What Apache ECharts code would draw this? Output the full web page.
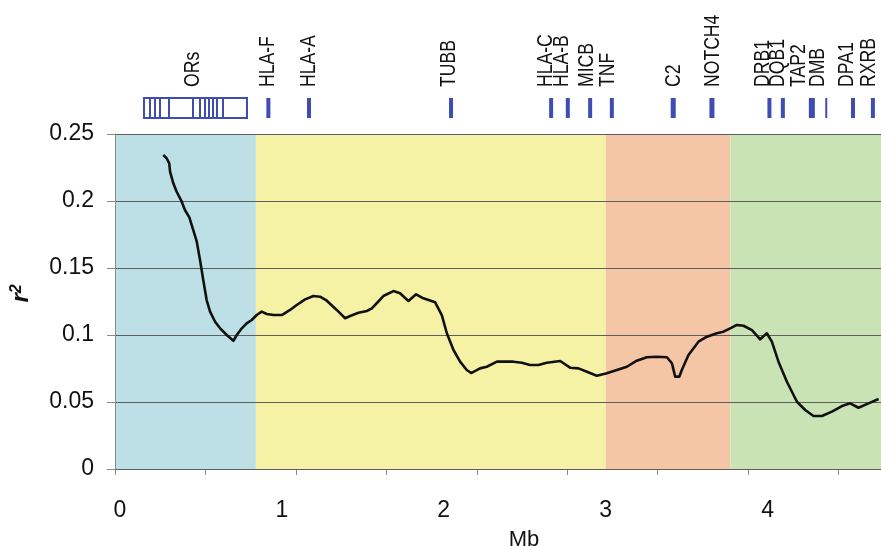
<!DOCTYPE html>
<html>
<head>
<meta charset="utf-8">
<script src="https://cdn.jsdelivr.net/npm/echarts@6/dist/echarts.min.js"></script>
<style>
  html, body { margin: 0; padding: 0; background: #ffffff; }
  #chart { width: 881px; height: 546px; }
</style>
</head>
<body>
<div id="chart"></div>
<script>
// Sliding-window LD (r²) along the MHC region, position in Mb
const positionMb = [
  0.268, 0.289, 0.305, 0.310, 0.330, 0.351, 0.382, 0.402, 0.429, 0.450,
  0.475, 0.495, 0.515, 0.536, 0.557, 0.588, 0.619, 0.660, 0.701, 0.722,
  0.753, 0.783, 0.814, 0.845, 0.876, 0.907, 0.948, 1.000, 1.051, 1.092,
  1.144, 1.195, 1.236, 1.278, 1.339, 1.391, 1.422, 1.473, 1.525, 1.556,
  1.586, 1.627, 1.689, 1.730, 1.782, 1.829, 1.874, 1.947, 1.988, 2.019,
  2.060, 2.101, 2.142, 2.169, 2.224, 2.266, 2.328, 2.430, 2.482, 2.533,
  2.585, 2.636, 2.719, 2.780, 2.832, 2.884, 2.945, 3.007, 3.069, 3.131,
  3.192, 3.254, 3.316, 3.378, 3.409, 3.429, 3.455, 3.470, 3.511, 3.573,
  3.625, 3.686, 3.727, 3.769, 3.810, 3.851, 3.903, 3.954, 3.995, 4.026,
  4.067, 4.119, 4.181, 4.232, 4.283, 4.335, 4.397, 4.459, 4.510, 4.561,
  4.623, 4.685
];
const r2Values = [
  0.2343, 0.2319, 0.2281, 0.2219, 0.2132, 0.2069, 0.1995, 0.1933, 0.1878, 0.1796,
  0.1696, 0.1560, 0.1410, 0.1261, 0.1174, 0.1099, 0.1050, 0.1000, 0.0957, 0.1000,
  0.1050, 0.1087, 0.1112, 0.1149, 0.1174, 0.1157, 0.1149, 0.1149, 0.1187, 0.1224,
  0.1266, 0.1291, 0.1286, 0.1256, 0.1187, 0.1125, 0.1142, 0.1166, 0.1179, 0.1199,
  0.1237, 0.1291, 0.1328, 0.1311, 0.1254, 0.1304, 0.1274, 0.1244, 0.1149, 0.1013,
  0.0888, 0.0801, 0.0739, 0.0716, 0.0751, 0.0763, 0.0801, 0.0801, 0.0793, 0.0776,
  0.0776, 0.0793, 0.0806, 0.0756, 0.0751, 0.0726, 0.0696, 0.0714, 0.0739, 0.0763,
  0.0808, 0.0834, 0.0838, 0.0834, 0.0789, 0.0689, 0.0689, 0.0739, 0.0851, 0.0950,
  0.0987, 0.1013, 0.1025, 0.1050, 0.1075, 0.1069, 0.1037, 0.0968, 0.1013, 0.0950,
  0.0801, 0.0651, 0.0502, 0.0440, 0.0396, 0.0396, 0.0428, 0.0470, 0.0490, 0.0457,
  0.0490, 0.0522
];

// Axis labels and tick marks (Mb)
const xLabelValues = [0, 1, 2, 3, 4];
const xTickValues = [-0.03, 0.528, 1.087, 1.645, 2.204, 2.762, 3.320, 3.879, 4.437];

// Coloured LD blocks: edges in Mb
const blockEdges = [-0.03, 0.84, 3.0, 3.77, 4.7];
const blockColors = ['#bde0e6', '#f5f2a5', '#f4c6a6', '#cae3b4'];

// Gene track
const geneNames = ['HLA-F', 'HLA-A', 'TUBB', 'HLA-C', 'HLA-B', 'MICB', 'TNF', 'C2',
  'NOTCH4', 'DRB1', 'DQB1', 'TAP2', 'DMB', 'DPA1', 'RXRB'];
const genePosMb = [0.917, 1.168, 2.045, 2.663, 2.766, 2.904, 3.038, 3.417,
  3.656, 4.011, 4.094, 4.273, 4.362, 4.527, 4.650];
const geneLabelMb = [0.913, 1.168, 2.033, 2.632, 2.729, 2.885, 3.013, 3.419,
  3.664, 3.974, 4.067, 4.191, 4.314, 4.490, 4.623];

// Olfactory receptor cluster
const orsSpanMb = [0.149, 0.785];
const orsGeneMb = [0.186, 0.217, 0.245, 0.304, 0.452, 0.495, 0.523, 0.551, 0.575, 0.600, 0.637];
const orsLabelMb = 0.454;

const X_MIN = -0.03, X_MAX = 4.7;
const TRACK_BLUE = '#3f4db3';
const markWidthPx = { 'C2': 5, 'NOTCH4': 5, 'TAP2': 6, 'DMB': 2 };
const FONT = "'Liberation Sans', Arial, sans-serif";

function geneLabel(api, mb, text) {
  const p = api.coord([mb, 0]);
  return {
    type: 'text',
    x: Math.round(p[0]), y: 87,
    rotation: Math.PI / 2,
    scaleX: 0.8,
    style: {
      text: text, fontSize: 22, fontFamily: FONT, fill: '#111',
      align: 'left', verticalAlign: 'middle'
    }
  };
}

const chart = echarts.init(document.getElementById('chart'), null, { renderer: 'canvas' });

chart.setOption({
  animation: false,
  backgroundColor: '#ffffff',
  grid: [
    { left: 115, right: 0, top: 134, bottom: 77, outerBoundsMode: 'none', containLabel: false },
    { left: 115, right: 0, top: 98, height: 20, outerBoundsMode: 'none', containLabel: false }
  ],
  xAxis: [
    {
      type: 'value', gridIndex: 0, min: X_MIN, max: X_MAX,
      name: 'Mb', nameLocation: 'middle', nameGap: 60,
      nameTextStyle: { fontSize: 22, fontFamily: FONT, color: '#111', padding: [0, 0, 0, 52] },
      axisLine: { show: true, onZero: false, lineStyle: { color: '#8a8a8a', width: 1 } },
      axisTick: { show: true, length: 6, inside: false, customValues: xTickValues,
        lineStyle: { color: '#8a8a8a' } },
      axisLabel: { customValues: xLabelValues, margin: 30, fontSize: 23, fontFamily: FONT,
        color: '#111', formatter: v => String(Math.round(v)) },
      splitLine: { show: false }
    },
    {
      type: 'value', gridIndex: 1, min: X_MIN, max: X_MAX, show: false
    }
  ],
  yAxis: [
    {
      type: 'value', gridIndex: 0, min: 0, max: 0.25, interval: 0.05, z: 1,
      name: '{r|r}{s|2}', nameLocation: 'middle', nameGap: 82, nameRotate: 90,
      nameTextStyle: {
        padding: [0, 0, 0, 16],
        rich: {
          r: { fontSize: 24, fontWeight: 'bold', fontStyle: 'italic', fontFamily: FONT, color: '#111' },
          s: { fontSize: 16, fontWeight: 'bold', fontStyle: 'italic', fontFamily: FONT, color: '#111',
               verticalAlign: 'top', padding: [0, 0, 8, 0] }
        }
      },
      axisLine: { show: true, onZero: false, lineStyle: { color: '#8a8a8a', width: 1 } },
      axisTick: { show: true, length: 8, lineStyle: { color: '#8a8a8a' } },
      axisLabel: { margin: 21, fontSize: 23, fontFamily: FONT, color: '#111' },
      splitLine: { show: true, lineStyle: { color: '#5e5e5e', width: 1 } }
    },
    {
      type: 'value', gridIndex: 1, min: 0, max: 1, show: false
    }
  ],
  series: [
    {
      // LD block shading
      type: 'custom', xAxisIndex: 0, yAxisIndex: 0, z: 0, silent: true,
      data: blockColors.map((c, i) => [blockEdges[i], blockEdges[i + 1]]),
      renderItem: (params, api) => {
        const a = api.coord([api.value(0), 0.25]);
        const b = api.coord([api.value(1), 0]);
        return {
          type: 'rect',
          shape: { x: a[0], y: a[1], width: b[0] - a[0], height: b[1] - a[1] },
          style: { fill: blockColors[params.dataIndex] }
        };
      }
    },
    {
      type: 'line', xAxisIndex: 0, yAxisIndex: 0, z: 3,
      data: positionMb.map((x, i) => [x, r2Values[i]]),
      showSymbol: false, smooth: false,
      lineStyle: { color: '#111111', width: 2.6, join: 'round' }
    },
    {
      // Single genes: marker bar + rotated name
      type: 'custom', xAxisIndex: 1, yAxisIndex: 1, silent: true, clip: false,
      data: genePosMb.map((p, i) => [p, geneLabelMb[i]]),
      renderItem: (params, api) => {
        const name = geneNames[params.dataIndex];
        const top = api.coord([api.value(0), 1]);
        const bot = api.coord([api.value(0), 0]);
        const w = markWidthPx[name] || 4;
        return {
          type: 'group',
          children: [
            { type: 'rect', shape: { x: top[0] - w / 2, y: top[1], width: w, height: bot[1] - top[1] },
              style: { fill: TRACK_BLUE } },
            geneLabel(api, api.value(1), name)
          ]
        };
      }
    },
    {
      // Olfactory receptor cluster box
      type: 'custom', xAxisIndex: 1, yAxisIndex: 1, silent: true, clip: false,
      data: [orsSpanMb],
      renderItem: (params, api) => {
        const a = api.coord([api.value(0), 1]);
        const b = api.coord([api.value(1), 0]);
        return {
          type: 'group',
          children: [
            { type: 'rect', shape: { x: a[0], y: a[1], width: b[0] - a[0], height: b[1] - a[1] },
              style: { fill: 'none', stroke: TRACK_BLUE, lineWidth: 2 } },
            geneLabel(api, orsLabelMb, 'ORs')
          ]
        };
      }
    },
    {
      // Individual OR genes inside the cluster
      type: 'custom', xAxisIndex: 1, yAxisIndex: 1, silent: true, clip: false,
      data: orsGeneMb.map(p => [p]),
      renderItem: (params, api) => {
        const a = api.coord([api.value(0), 1]);
        const b = api.coord([api.value(0), 0]);
        const x = Math.round(a[0]);
        return {
          type: 'line',
          shape: { x1: x, y1: a[1], x2: x, y2: b[1] },
          style: { stroke: TRACK_BLUE, lineWidth: 2 }
        };
      }
    }
  ]
});
</script>
</body>
</html>
